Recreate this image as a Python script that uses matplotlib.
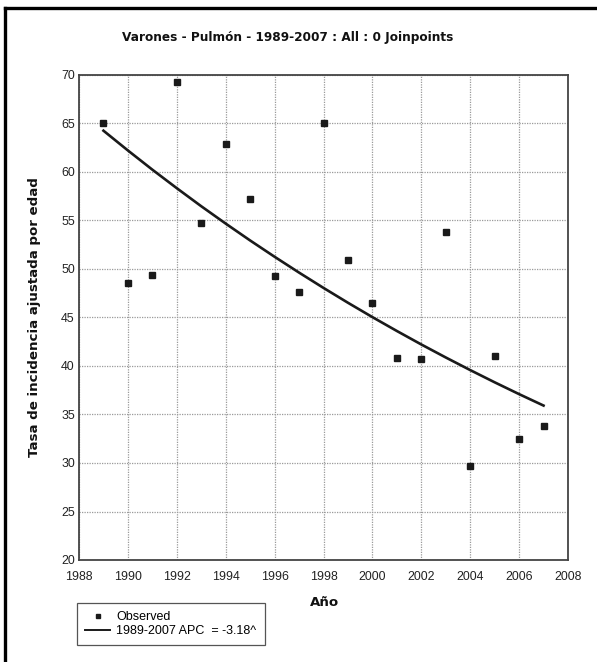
import matplotlib
matplotlib.use("Agg")
import matplotlib.pyplot as plt
from matplotlib.lines import Line2D

# observed rates
years = [1989, 1990, 1991, 1992, 1993, 1994, 1995, 1996, 1997, 1998,
         1999, 2000, 2001, 2002, 2003, 2004, 2005, 2006, 2007]
observed = [65.0, 48.6, 49.4, 69.3, 54.7, 62.9, 57.2, 49.3, 47.6, 65.1,
            50.9, 46.5, 40.8, 40.7, 53.8, 29.7, 41.0, 32.5, 33.8]
# fitted joinpoint model values (APC = -3.18)
fitted = [64.26, 62.22, 60.24, 58.33, 56.47, 54.68, 52.94, 51.26, 49.63, 48.05,
          46.52, 45.04, 43.61, 42.22, 40.88, 39.58, 38.32, 37.10, 35.92]

xticks = [1988, 1990, 1992, 1994, 1996, 1998, 2000, 2002, 2004, 2006, 2008]
yticks = [20, 25, 30, 35, 40, 45, 50, 55, 60, 65, 70]

W, H = 597, 662
fig = plt.figure(figsize=(W / 100, H / 100), dpi=100)
ax = fig.add_axes([79 / W, 1 - 560 / H, (568 - 79) / W, (560 - 75) / H])

ax.plot(years, fitted, color="#1a1a1a", lw=1.9, zorder=3,
        label="1989-2007 APC  = -3.18^")
ax.plot(years, observed, ls="none", marker="s", ms=5, color="#1a1a1a",
        zorder=4, label="Observed")

ax.set_xlim(1988, 2008)
ax.set_ylim(20, 70)
ax.set_xticks(xticks)
ax.set_yticks(yticks)
tick_font = {"family": "Liberation Sans", "size": 8.9, "color": "#222222"}
ax.set_xticklabels([str(t) for t in xticks], fontdict=tick_font)
ax.set_yticklabels([str(t) for t in yticks], fontdict=tick_font)
ax.tick_params(axis="y", length=0, pad=3)
ax.tick_params(axis="x", length=0, pad=8)
ax.grid(True, color="#9a9a9a", ls=(0, (1, 1)), lw=0.9)
for s in ax.spines.values():
    s.set_color("#444444")
    s.set_linewidth(1.3)

fig.text(288 / W, 1 - 37 / H, "Varones - Pulmón - 1989-2007 : All : 0 Joinpoints",
         ha="center", va="center", fontsize=8.7, fontweight="bold", color="#111111")
fig.text(325 / W, 1 - 602 / H, "Año", ha="center", va="center",
         fontsize=9.6, fontweight="bold", color="#111111")
fig.text(35 / W, 1 - 317 / H, "Tasa de incidencia ajustada por edad",
         ha="center", va="center", rotation=90, fontsize=9.6,
         fontweight="bold", color="#111111")

h, l = ax.get_legend_handles_labels()
leg = ax.legend(h[::-1], l[::-1], loc="upper left",
                bbox_to_anchor=(77 / W, 1 - 603 / H), bbox_transform=fig.transFigure,
                borderaxespad=0, prop={"family": "Liberation Sans", "size": 9},
                handlelength=2.0, handletextpad=0.5, labelspacing=0.15,
                borderpad=0.65, fancybox=False, framealpha=1)
leg.get_frame().set_edgecolor("#555555")
leg.get_frame().set_linewidth(0.9)
leg.legend_handles[0].set_markersize(3.5)
leg.legend_handles[1].set_linewidth(1.4)

# outer frame (top and left edges)
fig.add_artist(Line2D([5 / W, 1], [1 - 8 / H, 1 - 8 / H], transform=fig.transFigure,
                      color="black", lw=2.4))
fig.add_artist(Line2D([5 / W, 5 / W], [0, 1 - 8 / H], transform=fig.transFigure,
                      color="black", lw=2.4))

fig.savefig("out.png", dpi=100)
